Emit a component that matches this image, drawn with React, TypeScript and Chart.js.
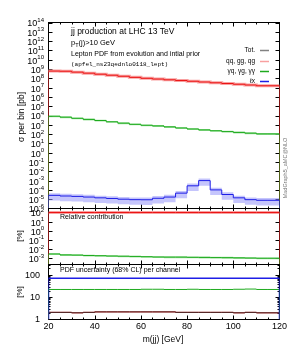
import React, { useEffect, useRef } from 'react';
import { Chart, registerables } from 'chart.js';
Chart.register(...registerables);

// ---------------- data ----------------
const mEdges = [20, 25, 30, 35, 40, 45, 50, 55, 60, 65, 70, 75, 80, 85, 90, 95, 100, 105, 110, 115, 120];
const xMajorTicks = [20, 40, 60, 80, 100, 120];
const xTickLabels = ['20', '40', '60', '80', '100', '120'];

// cross sections per bin [pb]
const xsecTot = [4.2e8, 6.0e8, 5.75e8, 4.6e8, 3.55e8, 2.75e8, 2.14e8, 1.66e8, 1.26e8, 1.0e8, 8.3e7, 6.9e7, 5.75e7, 4.8e7, 4.0e7, 3.3e7, 2.75e7, 2.3e7, 1.9e7, 1.58e7];
const xsecQCD = [4.2e8, 6.0e8, 5.75e8, 4.6e8, 3.55e8, 2.75e8, 2.14e8, 1.66e8, 1.26e8, 1.0e8, 8.3e7, 6.9e7, 5.75e7, 4.8e7, 4.0e7, 3.3e7, 2.75e7, 2.3e7, 1.9e7, 1.58e7];
const xsecPhoton = [8900, 8300, 6600, 5000, 3800, 2900, 2100, 1500, 1120, 890, 760, 600, 457, 355, 282, 229, 186, 151, 126, 105];
const xsecLepton = [2.8e-5, 2.6e-5, 2.2e-5, 2.0e-5, 1.7e-5, 1.4e-5, 1.2e-5, 1.0e-5, 8.9e-6, 8.7e-6, 1.26e-5, 1.7e-5, 4.5e-5, 2.75e-4, 1.0e-3, 1.0e-4, 3.2e-5, 1.4e-5, 8.9e-6, 7.6e-6];

// relative contribution [%]
const relTot = [100, 100, 100, 100, 100, 100, 100, 100, 100, 100, 100, 100, 100, 100, 100, 100, 100, 100, 100, 100];
const relQCD = [99.99, 99.99, 99.99, 99.99, 99.99, 99.99, 99.99, 99.99, 99.99, 99.99, 99.99, 99.99, 99.99, 99.99, 99.99, 99.99, 99.99, 99.99, 99.99, 99.99];
const relPhoton = [2.8e-3, 2.8e-3, 2.2e-3, 2.1e-3, 1.9e-3, 1.8e-3, 1.66e-3, 1.58e-3, 1.5e-3, 1.4e-3, 1.3e-3, 1.26e-3, 1.26e-3, 1.2e-3, 1.17e-3, 1.12e-3, 1.1e-3, 1.05e-3, 1.0e-3, 9.5e-4];

// PDF uncertainty (68% CL) [%]
const uncTot = [2.3, 2.1, 2.1, 2.0, 2.1, 2.2, 2.2, 2.2, 2.2, 2.2, 2.2, 2.2, 2.1, 2.1, 2.1, 2.1, 2.1, 2.0, 2.1, 2.0];
const uncQCD = [2.3, 2.1, 2.1, 2.0, 2.1, 2.2, 2.2, 2.2, 2.2, 2.2, 2.2, 2.2, 2.1, 2.1, 2.1, 2.1, 2.1, 2.0, 2.1, 2.0];
const uncPhoton = [25, 22.5, 22.5, 22.5, 22.5, 22.5, 22.5, 22.5, 22.5, 23, 23, 22.5, 22.5, 23, 22.5, 22.5, 22.5, 23, 23.5, 22.5];
const uncLepton = [72, 72, 72, 72, 72, 72, 72, 72, 72, 72, 72, 72, 72, 72, 72, 72, 72, 72, 72, 72];

const legendLabels = ['Tot.', 'qq, gg, qg', 'γq, γg, γγ', 'ℓx'];

// ---------------- layout / style ----------------
const W = 293, H = 351;
const AREA_L = 48.5, AREA_R = 279.5;
const SANS = '"Liberation Sans", Arial, Helvetica, sans-serif';
const MONO = '"Liberation Mono", "DejaVu Sans Mono", monospace';
const C_RED = 'rgb(235,20,20)';
const C_RED_L = 'rgb(248,160,160)';
const C_GREEN = 'rgb(30,170,30)';
const C_GREEN_L = 'rgba(140,220,140,0.8)';
const C_BLUE = 'rgb(30,30,230)';
const C_BLUE_L = 'rgba(150,150,250,0.55)';
const C_TOT = 'rgb(60,40,40)';

const PANELS = {
  main: { top: 22.5, bottom: 208.5, min: 1e-6, max: 1e14 },
  rel: { top: 208.5, bottom: 264.5, min: 1.95e-4, max: 275 },
  pdf: { top: 264.5, bottom: 319.5, min: 1, max: 300 },
};

type Pt = { x: number; y: number };
function stepPts(vals: number[], floor?: number): Pt[] {
  const pts: Pt[] = [];
  const n = vals.length;
  if (floor != null) pts.push({ x: mEdges[0], y: floor });
  vals.forEach((v, i) => pts.push({ x: mEdges[i], y: v }));
  pts.push({ x: mEdges[n], y: vals[n - 1] });
  if (floor != null) pts.push({ x: mEdges[n], y: floor });
  return pts;
}
function lineDs(data: Pt[], color: string, width: number, order: number) {
  return { data, borderColor: color, borderWidth: width, stepped: 'after', pointRadius: 0, fill: false, order };
}
function bandDs(vals: number[], unc: number[], color: string, order: number) {
  const lo = vals.map((v, i) => v * (1 - unc[i] / 100));
  const hi = vals.map((v, i) => v * (1 + unc[i] / 100));
  return [
    { data: stepPts(lo), borderColor: 'rgba(0,0,0,0)', borderWidth: 1, stepped: 'after', pointRadius: 0, fill: false, order },
    { data: stepPts(hi), borderColor: 'rgba(0,0,0,0)', borderWidth: 1, stepped: 'after', pointRadius: 0, fill: '-1', backgroundColor: color, order },
  ];
}

function drawPow(ctx: CanvasRenderingContext2D, exp: number, xr: number, y: number) {
  const base = '10';
  const sup = String(exp);
  ctx.font = `9px ${SANS}`;
  const wb = ctx.measureText(base).width;
  ctx.font = `6px ${SANS}`;
  const ws = ctx.measureText(sup).width;
  const x0 = xr - ws - wb;
  ctx.textAlign = 'left';
  ctx.textBaseline = 'middle';
  ctx.font = `9px ${SANS}`;
  ctx.fillText(base, x0, y + 1.5);
  ctx.font = `6px ${SANS}`;
  ctx.fillText(sup, x0 + wb, y - 2);
}

function frameAndTicks(chart: any, yMaj: number[], yMin: number[]) {
  const { ctx, chartArea: a } = chart;
  const xs = chart.scales.x, ys = chart.scales.y;
  ctx.save();
  ctx.strokeStyle = '#000';
  ctx.lineWidth = 1;
  ctx.strokeRect(a.left, a.top, a.right - a.left, a.bottom - a.top);
  ctx.beginPath();
  const yt = (v: number, len: number) => {
    const p = Math.round(ys.getPixelForValue(v)) + 0.5;
    if (p < a.top + 1 || p > a.bottom - 1) return;
    ctx.moveTo(a.left, p); ctx.lineTo(a.left + len, p);
    ctx.moveTo(a.right, p); ctx.lineTo(a.right - len, p);
  };
  yMaj.forEach((v) => yt(v, 4));
  yMin.forEach((v) => yt(v, 2));
  for (let i = 1; i < mEdges.length - 1; i++) {
    const v = mEdges[i];
    const len = xMajorTicks.includes(v) ? 4 : 2;
    const p = Math.round(xs.getPixelForValue(v)) + 0.5;
    ctx.moveTo(p, a.bottom); ctx.lineTo(p, a.bottom - len);
    ctx.moveTo(p, a.top); ctx.lineTo(p, a.top + len);
  }
  ctx.stroke();
  ctx.restore();
}

function makeConfig(panel: any, datasets: any[], before: (c: any) => void, after: (c: any) => void) {
  return {
    type: 'line',
    data: { datasets },
    options: {
      responsive: false,
      animation: false,
      devicePixelRatio: 1,
      events: [],
      layout: { padding: { left: AREA_L, right: W - AREA_R, top: panel.top, bottom: H - panel.bottom } },
      plugins: { legend: { display: false }, tooltip: { enabled: false }, title: { display: false } },
      elements: { point: { radius: 0 }, line: { tension: 0 } },
      scales: {
        x: { type: 'linear', min: 20, max: 120, display: false },
        y: { type: 'logarithmic', min: panel.min, max: panel.max, display: false },
      },
    },
    plugins: [{ id: 'decor', beforeDatasetsDraw: before, afterDraw: after }],
  } as any;
}

function decades(from: number, to: number) {
  const out: number[] = [];
  for (let e = from; e <= to; e++) out.push(Math.pow(10, e));
  return out;
}

function mainConfig() {
  const P = PANELS.main;
  const ds = [
    ...bandDs(xsecLepton, uncLepton, C_BLUE_L, 30),
    ...bandDs(xsecPhoton, uncPhoton, C_GREEN_L, 30),
    lineDs(stepPts(xsecTot, P.min), C_TOT, 1, 12),
    lineDs(stepPts(xsecQCD), C_RED_L, 3, 11),
    lineDs(stepPts(xsecQCD, P.min), C_RED, 1, 10),
    lineDs(stepPts(xsecPhoton, P.min), C_GREEN, 1, 9),
    lineDs(stepPts(xsecLepton, P.min), C_BLUE, 1, 8),
  ];
  return makeConfig(P, ds,
    (c) => frameAndTicks(c, decades(-6, 14), []),
    (c) => {
      const ctx = c.ctx as CanvasRenderingContext2D;
      const ys = c.scales.y;
      ctx.save();
      ctx.fillStyle = '#000';
      for (let e = -6; e <= 14; e++) drawPow(ctx, e, 44, ys.getPixelForValue(Math.pow(10, e)));
      // titles
      ctx.textAlign = 'left';
      ctx.textBaseline = 'middle';
      ctx.font = `8.5px ${SANS}`;
      ctx.fillText('jj production at LHC 13 TeV', 71, 32);
      ctx.font = `7.5px ${SANS}`;
      ctx.fillText('p', 71, 43);
      const wp = ctx.measureText('p').width;
      ctx.font = `5.5px ${SANS}`;
      ctx.fillText('T', 71 + wp, 45);
      const wt = ctx.measureText('T').width;
      ctx.font = `7.5px ${SANS}`;
      ctx.fillText('(j)>10 GeV', 71 + wp + wt, 43);
      ctx.font = `7px ${SANS}`;
      ctx.fillText('Lepton PDF from evolution and intial prior', 71, 54);
      ctx.font = `6px ${MONO}`;
      ctx.fillText('(apfel_ns23qednlo0118_lept)', 71, 64);
      // legend
      const lc = ['rgb(130,130,130)', C_RED_L, C_GREEN, C_BLUE];
      const ly = [50, 61, 71, 81];
      ctx.font = `6.5px ${SANS}`;
      ctx.textAlign = 'right';
      legendLabels.forEach((t, i) => {
        ctx.fillStyle = '#000';
        ctx.fillText(t, 255, ly[i]);
        ctx.strokeStyle = lc[i];
        ctx.lineWidth = 1.5;
        ctx.beginPath();
        ctx.moveTo(260, ly[i] + 0.5);
        ctx.lineTo(269, ly[i] + 0.5);
        ctx.stroke();
      });
      // y title
      ctx.fillStyle = '#000';
      ctx.save();
      ctx.translate(22, 117);
      ctx.rotate(-Math.PI / 2);
      ctx.textAlign = 'center';
      ctx.font = `8.5px ${SANS}`;
      ctx.fillText('σ per bin [pb]', 0, 0);
      ctx.restore();
      // side label
      ctx.save();
      ctx.translate(285, 168);
      ctx.rotate(-Math.PI / 2);
      ctx.textAlign = 'center';
      ctx.fillStyle = '#777';
      ctx.font = `5.5px ${SANS}`;
      ctx.fillText('MadGraph5_aMC@NLO', 0, 0);
      ctx.restore();
      ctx.restore();
    });
}

function relConfig() {
  const P = PANELS.rel;
  const ds = [
    ...bandDs(relPhoton, uncPhoton, C_GREEN_L, 30),
    lineDs(stepPts(relTot, P.min), C_TOT, 1, 12),
    lineDs(stepPts(relQCD), C_RED_L, 3, 11),
    lineDs(stepPts(relQCD, P.min), C_RED, 1, 10),
    lineDs(stepPts(relPhoton, P.min), C_GREEN, 1, 9),
  ];
  return makeConfig(P, ds,
    (c) => frameAndTicks(c, decades(-3, 2), []),
    (c) => {
      const ctx = c.ctx as CanvasRenderingContext2D;
      const ys = c.scales.y;
      ctx.save();
      ctx.fillStyle = '#000';
      for (let e = -3; e <= 2; e++) drawPow(ctx, e, 44, ys.getPixelForValue(Math.pow(10, e)));
      ctx.textAlign = 'left';
      ctx.textBaseline = 'middle';
      ctx.font = `7px ${SANS}`;
      ctx.fillText('Relative contribution', 60, 217.5);
      ctx.save();
      ctx.translate(20, 236);
      ctx.rotate(-Math.PI / 2);
      ctx.textAlign = 'center';
      ctx.font = `8px ${SANS}`;
      ctx.fillText('[%]', 0, 0);
      ctx.restore();
      ctx.restore();
    });
}

function pdfConfig() {
  const P = PANELS.pdf;
  const ds = [
    lineDs(stepPts(uncQCD, P.min), C_RED, 1, 12),
    lineDs(stepPts(uncTot, P.min), C_TOT, 1, 11),
    lineDs(stepPts(uncPhoton, P.min), C_GREEN, 1, 9),
    lineDs(stepPts(uncLepton, P.min), C_BLUE, 1.5, 8),
  ];
  const minors: number[] = [];
  for (const d of [1, 10, 100]) for (let k = 2; k <= 9; k++) if (k * d <= 300) minors.push(k * d);
  return makeConfig(P, ds,
    (c) => frameAndTicks(c, [1, 10, 100], minors),
    (c) => {
      const ctx = c.ctx as CanvasRenderingContext2D;
      const ys = c.scales.y, xs = c.scales.x;
      ctx.save();
      ctx.fillStyle = '#000';
      ctx.font = `9px ${SANS}`;
      ctx.textAlign = 'right';
      ctx.textBaseline = 'middle';
      [1, 10, 100].forEach((v) => ctx.fillText(String(v), 40, ys.getPixelForValue(v) + 0.5));
      ctx.textAlign = 'center';
      xMajorTicks.forEach((v, i) => ctx.fillText(xTickLabels[i], xs.getPixelForValue(v), 327));
      ctx.font = `8.5px ${SANS}`;
      ctx.fillText('m(jj) [GeV]', 163, 340);
      ctx.textAlign = 'left';
      ctx.font = `7px ${SANS}`;
      ctx.fillText('PDF uncertainty (68% CL) per channel', 60, 270.5);
      ctx.save();
      ctx.translate(20, 292);
      ctx.rotate(-Math.PI / 2);
      ctx.textAlign = 'center';
      ctx.font = `8px ${SANS}`;
      ctx.fillText('[%]', 0, 0);
      ctx.restore();
      ctx.restore();
    });
}

export default function App() {
  const r1 = useRef<HTMLCanvasElement>(null);
  const r2 = useRef<HTMLCanvasElement>(null);
  const r3 = useRef<HTMLCanvasElement>(null);
  useEffect(() => {
    const charts = [
      new Chart(r1.current!, mainConfig()),
      new Chart(r2.current!, relConfig()),
      new Chart(r3.current!, pdfConfig()),
    ];
    return () => charts.forEach((c) => c.destroy());
  }, []);
  const cs: React.CSSProperties = { position: 'absolute', left: 0, top: 0, width: W, height: H };
  return (
    <div style={{ position: 'fixed', left: 0, top: 0, width: W, height: H, background: '#fff' }}>
      <canvas ref={r1} width={W} height={H} style={cs} />
      <canvas ref={r2} width={W} height={H} style={cs} />
      <canvas ref={r3} width={W} height={H} style={cs} />
    </div>
  );
}
